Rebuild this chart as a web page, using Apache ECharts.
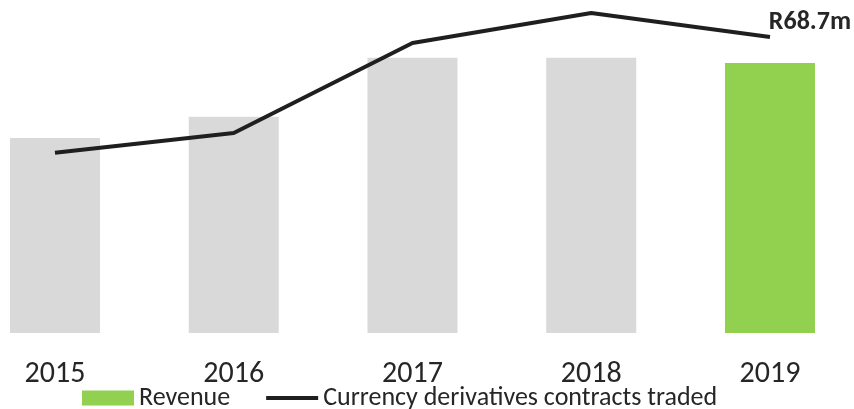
<!DOCTYPE html>
<html><head><meta charset="utf-8">
<script src="https://cdn.jsdelivr.net/npm/echarts@6/dist/echarts.min.js"></script>
<style>html,body{margin:0;padding:0;background:#fff}#c{width:854px;height:409px}</style>
</head><body><div id="c"></div>
<script>
const categories = ['2015', '2016', '2017', '2018', '2019'];
const revenue = [49.6, 55.0, 70.0, 70.0, 68.7];
const contractsTraded = [56.3, 62.5, 90.6, 100, 92.5];
const revenueLabel = 'R68.7m';

const FONT = 'Carlito, Lato, sans-serif';
const chart = echarts.init(document.getElementById('c'), null, {renderer: 'canvas'});
chart.setOption({
  animation: false,
  backgroundColor: '#fff',
  textStyle: {fontFamily: FONT},
  grid: {left: -34.4, right: -5.35, top: 13, bottom: 76, containLabel: false, outerBoundsMode: 'none'},
  legend: {
    left: 77, top: 380, itemWidth: 52, itemHeight: 15, itemGap: 34,
    textStyle: {fontFamily: FONT, fontSize: 26, color: '#262626'},
    data: [
      {name: 'Revenue', icon: 'rect'},
      {name: 'Currency derivatives contracts traded',
       itemStyle: {color: 'rgba(0,0,0,0)', opacity: 0},
       lineStyle: {color: '#1f1f1f', width: 4}}
    ]
  },
  xAxis: {
    type: 'category', data: categories, boundaryGap: true,
    axisLine: {show: false}, axisTick: {show: false},
    axisLabel: {fontFamily: FONT, fontSize: 30, color: '#262626', margin: 26}
  },
  yAxis: [
    {type: 'value', min: 0, max: 81.4, show: false},
    {type: 'value', min: 0, max: 100, show: false}
  ],
  series: [
    {
      name: 'Revenue', type: 'bar', barWidth: 90, yAxisIndex: 0,
      itemStyle: {color: '#92d050'},
      data: revenue.map((v, i) => i === revenue.length - 1
        ? {value: v, itemStyle: {color: '#92d050'},
           label: {show: true, position: 'top', formatter: revenueLabel, fontFamily: FONT,
                   fontSize: 26, fontWeight: 'bold', color: '#262626', offset: [40, -22]}}
        : {value: v, itemStyle: {color: '#d9d9d9'}})
    },
    {
      name: 'Currency derivatives contracts traded', type: 'line', yAxisIndex: 1,
      symbol: 'none', lineStyle: {color: '#1f1f1f', width: 4}, itemStyle: {color: '#1f1f1f'},
      data: contractsTraded
    }
  ]
});
</script></body></html>
